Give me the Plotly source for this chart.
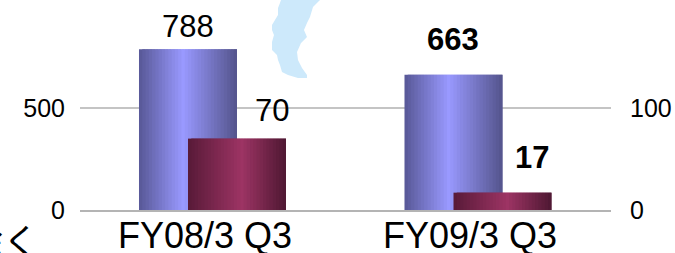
import plotly.graph_objects as go

# ---- data ----
categories = ["FY08/3 Q3", "FY09/3 Q3"]
left_values = [788, 663]      # blue bars, left axis
right_values = [70, 17]       # maroon bars, right axis
left_ticks = [0, 500]
right_ticks = [0, 100]
left_labels_bold = [False, True]
right_labels_bold = [False, True]

# ---- styling ----
W, H = 675, 253
ML, MR, MT, MB = 80, 64, 0, 43
PW, PH = W - ML - MR, H - MT - MB
FONT = "Arial, 'Liberation Sans', sans-serif"

blue_stops = [(0.0, (88, 88, 150)), (0.45, (153, 153, 255)), (1.0, (84, 84, 140))]
maroon_stops = [(0.0, (88, 26, 56)), (0.55, (157, 52, 100)), (1.0, (78, 24, 50))]


def grad(stops, t):
    for (t0, c0), (t1, c1) in zip(stops[:-1], stops[1:]):
        if t <= t1:
            f = (t - t0) / (t1 - t0)
            return "rgb(%d,%d,%d)" % tuple(round(a + (b - a) * f) for a, b in zip(c0, c1))
    return "rgb(%d,%d,%d)" % stops[-1][1]


x = list(range(len(categories)))
bar_w = 0.369
blue_off = -0.2778
maroon_off = -0.0932
N = 30

fig = go.Figure()
for stops, vals, off, ax in [(blue_stops, left_values, blue_off, "y"),
                             (maroon_stops, right_values, maroon_off, "y2")]:
    sw = bar_w / N
    for i in range(N):
        t = (i + 0.5) / N
        fig.add_trace(go.Bar(
            x=x, y=vals, yaxis=ax,
            width=sw * (2.0 if i < N - 1 else 1.0), offset=off + i * sw,
            marker=dict(color=grad(stops, t), line=dict(width=0)),
            showlegend=False, hoverinfo="skip",
        ))

annotations = []
for i, v in enumerate(left_values):
    txt = f"<b>{v}</b>" if left_labels_bold[i] else str(v)
    annotations.append(dict(x=x[i] + blue_off + bar_w / 2, y=v, xref="x", yref="y",
                            text=txt, showarrow=False, yanchor="middle",
                            yshift=[23, 35][i], font=dict(size=31, color="black", family=FONT)))
for i, v in enumerate(right_values):
    txt = f"<b>{v}</b>" if right_labels_bold[i] else str(v)
    annotations.append(dict(x=x[i] + [0.2213, 0.2013][i], y=v, xref="x", yref="y2",
                            text=txt, showarrow=False, yanchor="middle",
                            yshift=[28, 35][i], font=dict(size=31, color="black", family=FONT)))

# category labels
for i, c in enumerate(categories):
    annotations.append(dict(x=x[i], y=0, xref="x", yref="paper", text=c, showarrow=False,
                            xanchor="center", yanchor="middle", xshift=-8, yshift=-25,
                            font=dict(size=36, color="black", family=FONT)))

annotations.append(dict(x=(41 - ML) / PW, y=(PH - 239) / PH, xref="paper", yref="paper",
                        text="除く", showarrow=False, xanchor="right", yanchor="middle",
                        font=dict(size=36, color="black", family="'Noto Sans CJK JP'")))

# decorative light-blue shape at top
pts = [(281, 0), (280, 3), (278, 8), (278, 15), (275, 20), (272, 25), (272, 30), (274, 35),
       (272, 42), (272, 50), (277, 55), (278, 60), (280, 65), (282, 72), (288, 75), (298, 78),
       (307, 78), (307, 75), (302, 68), (298, 60), (297, 52), (301, 43), (307, 37), (304, 30),
       (307, 23), (310, 17), (313, 7), (318, 2), (320, 0)]
path = "M " + " L ".join(f"{(px - ML) / PW:.4f},{(PH - (py - MT)) / PH:.4f}" for px, py in pts) + " Z"

fig.update_layout(
    width=W, height=H, autosize=False,
    margin=dict(l=ML, r=MR, t=MT, b=MB, pad=0, autoexpand=False),
    paper_bgcolor="white", plot_bgcolor="white",
    barmode="overlay", showlegend=False,
    font=dict(family=FONT, color="black"),
    annotations=annotations,
    shapes=[dict(type="path", path=path, xref="paper", yref="paper",
                 fillcolor="#cde9fb", line=dict(width=0), layer="below")],
    xaxis=dict(range=[-0.5, 1.5], tickmode="array", tickvals=x, ticktext=categories,
               showticklabels=False,
               showgrid=False, zeroline=False, showline=True, linecolor="#b4b4b4", linewidth=2,
               ticks="", automargin=False),
    yaxis=dict(range=[0, PH / 102 * 500], tickmode="array", tickvals=left_ticks,
               showgrid=True, gridcolor="#c4c4c4", gridwidth=1.5, zeroline=False,
               showline=False, ticks="", tickfont=dict(size=25, color="black"),
               ticklabelstandoff=14, automargin=False),
    yaxis2=dict(range=[0, PH / 102 * 100], tickmode="array", tickvals=right_ticks,
                overlaying="y", side="right", showgrid=False, zeroline=False,
                showline=False, ticks="", tickfont=dict(size=25, color="black"),
                ticklabelstandoff=18, automargin=False),
)

fig.write_html("out.html", config={"displayModeBar": False})

# remove the default page margin so the figure sits at the window's top-left corner
with open("out.html", encoding="utf-8") as f:
    html = f.read()
html = html.replace("<head>", "<head><style>html,body{margin:0;padding:0;overflow:hidden;}</style>", 1)
with open("out.html", "w", encoding="utf-8") as f:
    f.write(html)
